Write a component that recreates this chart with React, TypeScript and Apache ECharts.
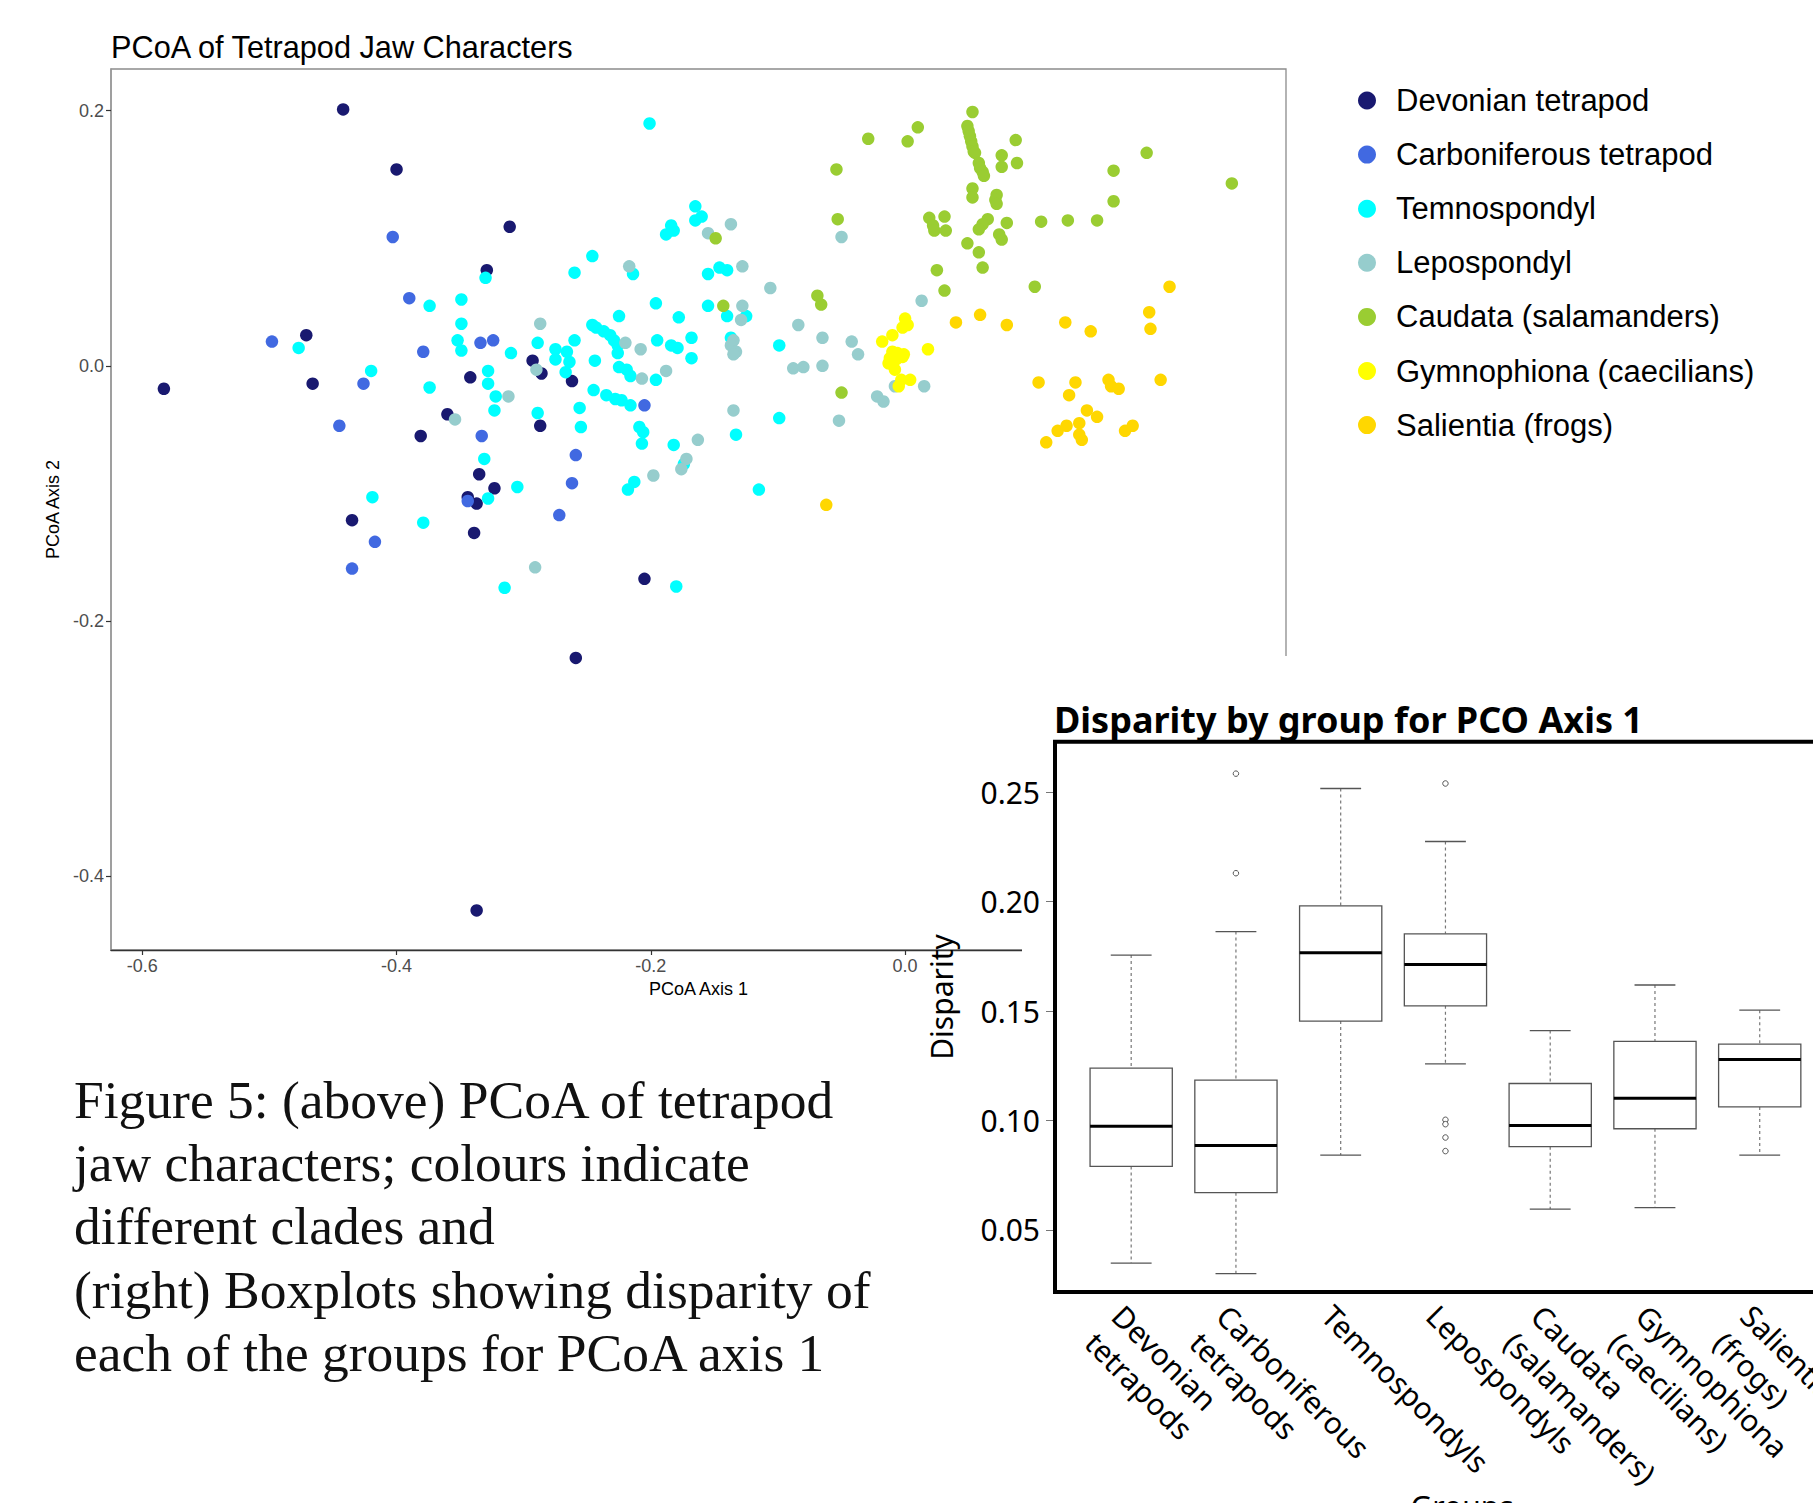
import React, { useEffect, useRef } from 'react';
import * as echarts from 'echarts';

// ---------- Scatter (PCoA) data ----------
const groupNames = [
  'Devonian tetrapod',
  'Carboniferous tetrapod',
  'Temnospondyl',
  'Lepospondyl',
  'Caudata (salamanders)',
  'Gymnophiona (caecilians)',
  'Salientia (frogs)',
];
const groupColors = ['#191970', '#4169E1', '#00FFFF', '#96CDCD', '#9ACD32', '#FFFF00', '#FFD700'];

const devonian = [
  [-0.442, 0.201], [-0.400, 0.154], [-0.311, 0.109], [-0.329, 0.075], [-0.471, 0.024], [-0.583, -0.018],
  [-0.466, -0.014], [-0.342, -0.009], [-0.293, 0.004], [-0.286, -0.006], [-0.262, -0.012], [-0.360, -0.038],
  [-0.381, -0.055], [-0.287, -0.047], [-0.335, -0.085], [-0.323, -0.096], [-0.344, -0.103], [-0.337, -0.108],
  [-0.435, -0.121], [-0.339, -0.131], [-0.205, -0.167], [-0.259, -0.229], [-0.337, -0.427],
];
const carboniferous = [
  [-0.403, 0.101], [-0.390, 0.053], [-0.498, 0.019], [-0.379, 0.011], [-0.334, 0.018], [-0.324, 0.020],
  [-0.426, -0.014], [-0.445, -0.047], [-0.333, -0.055], [-0.205, -0.031], [-0.259, -0.070], [-0.262, -0.092],
  [-0.272, -0.117], [-0.417, -0.138], [-0.435, -0.159], [-0.344, -0.106],
];
const temnospondyl = [
  [-0.201, 0.190], [-0.165, 0.125], [-0.160, 0.117], [-0.165, 0.114], [-0.184, 0.110], [-0.182, 0.106],
  [-0.188, 0.103], [-0.246, 0.086], [-0.214, 0.072], [-0.260, 0.073], [-0.330, 0.069], [-0.374, 0.047],
  [-0.349, 0.052], [-0.349, 0.033], [-0.352, 0.020], [-0.349, 0.012], [-0.477, 0.014], [-0.420, -0.004],
  [-0.374, -0.017], [-0.310, 0.010], [-0.289, 0.018], [-0.275, 0.013], [-0.275, 0.005], [-0.266, 0.011],
  [-0.264, 0.003], [-0.260, 0.020], [-0.267, -0.005], [-0.244, 0.004],
  [-0.246, 0.032], [-0.243, 0.030], [-0.237, 0.027], [-0.232, 0.024], [-0.229, 0.020], [-0.226, 0.016],
  [-0.226, 0.010], [-0.225, 0.039], [-0.196, 0.049], [-0.178, 0.038], [-0.168, 0.022], [-0.195, 0.020],
  [-0.184, 0.016], [-0.179, 0.014], [-0.168, 0.006], [-0.225, -0.001], [-0.219, -0.003], [-0.216, -0.008],
  [-0.196, -0.011], [-0.328, -0.004], [-0.328, -0.014], [-0.322, -0.024], [-0.323, -0.035], [-0.289, -0.037],
  [-0.256, -0.033], [-0.255, -0.048], [-0.245, -0.019], [-0.235, -0.023], [-0.228, -0.026], [-0.223, -0.027],
  [-0.216, -0.031], [-0.209, -0.048], [-0.206, -0.052], [-0.207, -0.061], [-0.182, -0.062], [-0.331, -0.073],
  [-0.305, -0.095], [-0.328, -0.104], [-0.419, -0.103], [-0.218, -0.097], [-0.213, -0.091], [-0.379, -0.123],
  [-0.315, -0.174], [-0.180, -0.173], [-0.155, 0.072], [-0.146, 0.077], [-0.140, 0.075], [-0.155, 0.047],
  [-0.140, 0.039], [-0.125, 0.039], [-0.099, 0.016], [-0.099, -0.041], [-0.133, -0.054], [-0.115, -0.097],
  [-0.137, 0.022], [-0.174, -0.077],
];
const lepospondyl = [
  [-0.217, 0.078], [-0.287, 0.033], [-0.220, 0.018], [-0.208, 0.013], [-0.290, -0.003], [-0.207, -0.010],
  [-0.188, -0.004], [-0.312, -0.024], [-0.354, -0.042], [-0.163, -0.058], [-0.172, -0.073], [-0.176, -0.081],
  [-0.198, -0.086], [-0.291, -0.158], [-0.137, 0.111], [-0.155, 0.104], [-0.050, 0.101], [-0.128, 0.078],
  [-0.106, 0.061], [-0.128, 0.047], [-0.129, 0.036], [-0.084, 0.032], [0.013, 0.051], [-0.135, 0.020],
  [-0.137, 0.016], [-0.133, 0.011], [-0.135, 0.009], [-0.065, 0.022], [-0.042, 0.019], [-0.037, 0.009],
  [-0.088, -0.002], [-0.080, -0.001], [-0.065, 0.000], [-0.008, -0.016], [0.015, -0.016], [-0.022, -0.024],
  [-0.017, -0.028], [-0.135, -0.035], [-0.052, -0.043],
];
const caudata = [
  [0.053, 0.199], [0.010, 0.187], [-0.029, 0.178], [0.002, 0.176], [0.049, 0.188], [0.050, 0.184],
  [0.051, 0.180], [0.052, 0.176], [0.053, 0.172], [0.054, 0.168], [0.055, 0.167], [0.087, 0.177],
  [0.076, 0.165], [0.076, 0.156], [0.088, 0.159], [0.058, 0.159], [0.059, 0.155], [0.061, 0.152],
  [0.062, 0.149], [0.190, 0.167], [0.164, 0.153], [0.257, 0.143], [-0.054, 0.154], [0.053, 0.139],
  [0.053, 0.132], [0.072, 0.134], [0.071, 0.130], [0.072, 0.127], [0.164, 0.129], [-0.053, 0.115],
  [0.031, 0.117], [0.019, 0.116], [0.022, 0.110], [0.023, 0.106], [0.032, 0.106], [0.065, 0.115],
  [0.061, 0.111], [0.058, 0.107], [0.080, 0.112], [0.107, 0.113], [0.128, 0.114], [0.151, 0.114],
  [0.074, 0.103], [0.076, 0.099], [0.049, 0.096], [0.058, 0.089], [0.061, 0.077], [0.025, 0.075],
  [0.031, 0.059], [0.102, 0.062], [-0.069, 0.055], [-0.066, 0.048], [-0.149, 0.100], [-0.143, 0.047],
  [-0.050, -0.021],
];
const gymnophiona = [
  [0.000, 0.037], [0.002, 0.032], [-0.002, 0.030], [-0.010, 0.024], [-0.018, 0.019], [0.018, 0.013],
  [-0.010, 0.011], [-0.006, 0.010], [-0.001, 0.009], [-0.012, 0.006], [-0.007, 0.005], [-0.002, 0.007],
  [-0.010, 0.001], [-0.008, -0.003], [-0.013, 0.002], [-0.003, -0.011], [0.004, -0.011], [-0.005, -0.016],
];
const salientia = [
  [0.040, 0.034], [0.059, 0.040], [0.080, 0.032], [0.126, 0.034], [0.146, 0.027], [0.192, 0.042],
  [0.193, 0.029], [0.208, 0.062], [0.105, -0.013], [0.134, -0.013], [0.129, -0.023], [0.160, -0.011],
  [0.162, -0.016], [0.168, -0.018], [0.201, -0.011], [0.143, -0.035], [0.151, -0.040], [0.120, -0.051],
  [0.127, -0.047], [0.137, -0.045], [0.137, -0.054], [0.139, -0.058], [0.111, -0.060], [0.173, -0.051],
  [0.179, -0.047], [-0.062, -0.109],
];
const groupData = [devonian, carboniferous, temnospondyl, lepospondyl, caudata, gymnophiona, salientia];

const pcoaXTicks = [-0.6, -0.4, -0.2, 0.0];
const pcoaYTicks = [-0.4, -0.2, 0.0, 0.2];

// ---------- Boxplot data ----------
const boxGroups = [
  'Devonian\ntetrapods',
  'Carboniferous\ntetrapods',
  'Temnospondyls',
  'Lepospondyls',
  'Caudata\n(salamanders)',
  'Gymnophiona\n(caecilians)',
  'Salientia\n(frogs)',
];
const boxMin = [0.0348, 0.0300, 0.0842, 0.1259, 0.0595, 0.0602, 0.0842];
const boxQ1 = [0.0790, 0.0670, 0.1454, 0.1524, 0.0880, 0.0962, 0.1062];
const boxMedian = [0.0974, 0.0885, 0.1766, 0.1713, 0.0977, 0.1102, 0.1279];
const boxQ3 = [0.1239, 0.1184, 0.1981, 0.1853, 0.1169, 0.1361, 0.1349];
const boxMax = [0.1756, 0.1863, 0.2517, 0.2275, 0.1411, 0.1619, 0.1504];
const boxOutliers = [[1, 0.2130], [1, 0.2585], [3, 0.2540], [3, 0.1003], [3, 0.0983], [3, 0.0922], [3, 0.0860]];
const boxYTicks = [0.05, 0.10, 0.15, 0.20, 0.25];

const captionLines = [
  'Figure 5: (above) PCoA of tetrapod',
  'jaw characters; colours indicate',
  'different clades and',
  '(right) Boxplots showing disparity of',
  'each of the groups for PCoA axis 1',
];

const SANS = 'Liberation Sans, Arial, sans-serif';
const NOTO = 'Noto Sans, Open Sans, sans-serif';
const SERIF = 'Liberation Serif, Times New Roman, serif';

const fmt1 = (v: number) => (Math.abs(v) < 1e-9 ? 0 : v).toFixed(1);
const fmt2 = (v: number) => v.toFixed(2);

export default function App() {
  const ref = useRef<HTMLDivElement>(null);
  useEffect(() => {
    const chart = echarts.init(ref.current!, null, { renderer: 'svg' });

    const scatterSeries = groupNames.map((name, i) => ({
      type: 'scatter',
      name,
      xAxisIndex: 0,
      yAxisIndex: 0,
      data: groupData[i],
      symbol: 'circle',
      symbolSize: 12.5,
      itemStyle: { color: groupColors[i], opacity: 1 },
      emphasis: { disabled: true },
      z: 2,
    }));

    const boxData = boxGroups.map((_, i) => [i, boxMin[i], boxQ1[i], boxMedian[i], boxQ3[i], boxMax[i]]);

    const captionElems = captionLines.map((t, i) => ({
      type: 'text',
      x: 74,
      y: [1100.4, 1162.5, 1226, 1289.6, 1353][i],
      z: 12,
      silent: true,
      style: {
        text: t,
        fontSize: 53.5,
        fontFamily: SERIF,
        fill: '#111',
        align: 'left',
        verticalAlign: 'middle',
        textAlign: 'left',
        textVerticalAlign: 'middle',
      },
    }));

    const option: any = {
      animation: false,
      backgroundColor: '#ffffff',
      title: [
        {
          text: 'PCoA of Tetrapod Jaw Characters',
          left: 111,
          top: 31.5,
          padding: 0,
          textStyle: { fontSize: 30.7, fontWeight: 'normal', fontFamily: SANS, color: '#000' },
          z: 12,
        },
        {
          text: 'Disparity by group for PCO Axis 1',
          left: 1054,
          top: 701,
          padding: 0,
          textStyle: { fontSize: 36, fontWeight: 'bold', fontFamily: NOTO, color: '#000' },
          z: 12,
        },
      ],
      legend: {
        data: groupNames,
        orient: 'vertical',
        left: 1358,
        top: 85,
        padding: 0,
        itemWidth: 18,
        itemHeight: 18,
        itemGap: 23.1,
        icon: 'circle',
        selectedMode: false,
        textStyle: { fontSize: 31, lineHeight: 30, fontFamily: SANS, color: '#000', padding: [0, 0, 0, 15] },
      },
      grid: [
        {
          left: 111, top: 69, width: 1175, height: 881,
          show: true, borderColor: '#8c8c8c', borderWidth: 1.3, backgroundColor: 'transparent',
          containLabel: false, outerBoundsMode: 'none',
        },
        {
          left: 1078.8, top: 741.7, width: 733.3, height: 550.3,
          show: false, containLabel: false, outerBoundsMode: 'none',
        },
      ],
      xAxis: [
        {
          gridIndex: 0,
          type: 'value',
          min: -0.6246,
          max: 0.2996,
          axisLine: { show: true, onZero: false, lineStyle: { color: '#333', width: 1.3 } },
          axisTick: { show: true, length: 5, customValues: pcoaXTicks, lineStyle: { color: '#333', width: 1.2 } },
          axisLabel: { customValues: pcoaXTicks, formatter: fmt1, color: '#4d4d4d', fontSize: 18, fontFamily: SANS, margin: 7 },
          splitLine: { show: false },
          name: 'PCoA Axis 1',
          nameLocation: 'middle',
          nameGap: 28,
          nameTextStyle: { color: '#000', fontSize: 18, fontFamily: SANS },
        },
        {
          gridIndex: 1,
          type: 'category',
          data: boxGroups,
          axisLine: { show: false },
          axisTick: { show: false },
          axisLabel: {
            interval: 0, rotate: -45, align: 'left', verticalAlign: 'top', margin: 5,
            fontSize: 30, lineHeight: 38, fontFamily: NOTO, color: '#000',
          },
          splitLine: { show: false },
          z: 10,
        },
      ],
      yAxis: [
        {
          gridIndex: 0,
          type: 'value',
          min: -0.458,
          max: 0.2327,
          axisLine: { show: true, onZero: false, lineStyle: { color: '#999', width: 1.5 } },
          axisTick: { show: true, length: 5, customValues: pcoaYTicks, lineStyle: { color: '#333', width: 1.2 } },
          axisLabel: { customValues: pcoaYTicks, formatter: fmt1, color: '#4d4d4d', fontSize: 18, fontFamily: SANS, margin: 7 },
          splitLine: { show: false },
          name: 'PCoA Axis 2',
          nameLocation: 'middle',
          nameRotate: 90,
          nameGap: 34,
          nameTextStyle: { color: '#000', fontSize: 18, fontFamily: SANS },
        },
        {
          gridIndex: 1,
          type: 'value',
          min: 0.0216,
          max: 0.2731,
          offset: 23.8,
          axisLine: { show: false },
          axisTick: { show: true, length: 9, customValues: boxYTicks, lineStyle: { color: '#777', width: 1 } },
          axisLabel: { customValues: boxYTicks, formatter: fmt2, fontSize: 30, fontFamily: NOTO, color: '#000', margin: 15 },
          splitLine: { show: false },
          z: 10,
        },
      ],
      series: [
        ...scatterSeries,
        {
          type: 'custom',
          name: 'Disparity boxes',
          xAxisIndex: 1,
          yAxisIndex: 1,
          data: boxData,
          encode: { x: 0, y: [1, 2, 3, 4, 5] },
          z: 10,
          silent: true,
          renderItem: (_params: any, api: any) => {
            const idx = api.value(0);
            const lo = api.coord([idx, api.value(1)]);
            const q1 = api.coord([idx, api.value(2)]);
            const med = api.coord([idx, api.value(3)]);
            const q3 = api.coord([idx, api.value(4)]);
            const hi = api.coord([idx, api.value(5)]);
            const band = api.size([1, 0])[0];
            const bw = band * 0.785;
            const cw = band * 0.39;
            const cx = med[0];
            const dash = { stroke: '#777', lineWidth: 1.2, lineDash: [3, 3] };
            const solid = { stroke: '#555', lineWidth: 1.3 };
            return {
              type: 'group',
              children: [
                { type: 'line', shape: { x1: cx, y1: hi[1], x2: cx, y2: q3[1] }, style: dash },
                { type: 'line', shape: { x1: cx, y1: q1[1], x2: cx, y2: lo[1] }, style: dash },
                { type: 'line', shape: { x1: cx - cw / 2, y1: hi[1], x2: cx + cw / 2, y2: hi[1] }, style: solid },
                { type: 'line', shape: { x1: cx - cw / 2, y1: lo[1], x2: cx + cw / 2, y2: lo[1] }, style: solid },
                {
                  type: 'rect',
                  shape: { x: cx - bw / 2, y: q3[1], width: bw, height: q1[1] - q3[1] },
                  style: { fill: '#fff', stroke: '#555', lineWidth: 1.3 },
                },
                { type: 'line', shape: { x1: cx - bw / 2, y1: med[1], x2: cx + bw / 2, y2: med[1] }, style: { stroke: '#000', lineWidth: 3 } },
              ],
            };
          },
        },
        {
          type: 'scatter',
          name: 'Outliers',
          xAxisIndex: 1,
          yAxisIndex: 1,
          data: boxOutliers,
          symbol: 'circle',
          symbolSize: 5.5,
          itemStyle: { color: '#fff', borderColor: '#555', borderWidth: 1, opacity: 1 },
          emphasis: { disabled: true },
          z: 11,
        },
      ],
      graphic: [
        {
          type: 'rect',
          z: 5,
          silent: true,
          shape: { x: 1022, y: 656, width: 820, height: 880 },
          style: { fill: '#ffffff' },
        },
        {
          type: 'rect',
          z: 12,
          silent: true,
          shape: { x: 1055, y: 741.7, width: 820, height: 550.3 },
          style: { fill: 'none', stroke: '#000', lineWidth: 4 },
        },
        {
          type: 'text',
          z: 12,
          x: 941,
          y: 997,
          rotation: Math.PI / 2,
          silent: true,
          style: {
            text: 'Disparity', fontSize: 30, fontFamily: NOTO, fill: '#000',
            align: 'center', verticalAlign: 'middle', textAlign: 'center', textVerticalAlign: 'middle',
          },
        },
        {
          type: 'text',
          z: 12,
          x: 1462,
          y: 1506,
          silent: true,
          style: {
            text: 'Groups', fontSize: 30, fontFamily: NOTO, fill: '#000',
            align: 'center', verticalAlign: 'middle', textAlign: 'center', textVerticalAlign: 'middle',
          },
        },
        ...captionElems,
      ],
    };

    chart.setOption(option);
    return () => chart.dispose();
  }, []);

  return (
    <div
      ref={ref}
      style={{ position: 'fixed', left: 0, top: 0, width: 1813, height: 1503, background: '#fff' }}
    />
  );
}
